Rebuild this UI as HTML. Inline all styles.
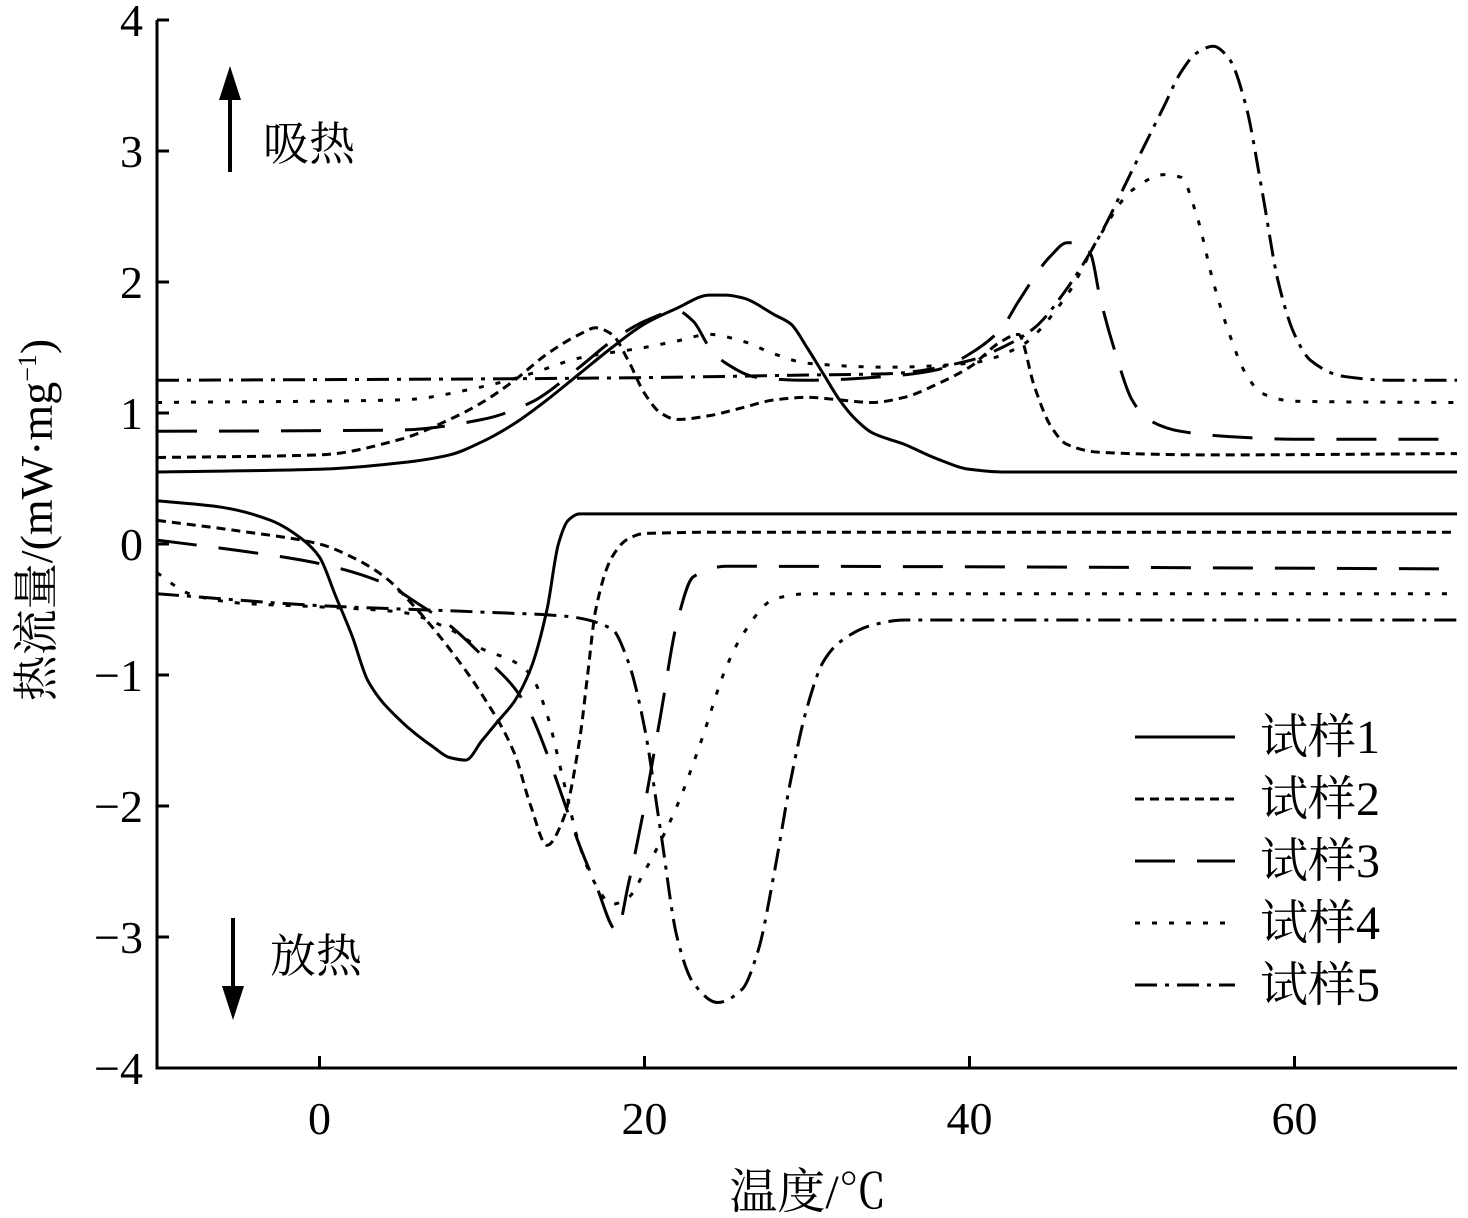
<!DOCTYPE html>
<html><head><meta charset="utf-8">
<style>
html,body{margin:0;padding:0;background:#fff;}
svg{display:block;font-family:"Liberation Serif","Noto Serif CJK SC",serif;}
</style></head>
<body>
<svg id="chart" width="1468" height="1218" viewBox="0 0 1468 1218" xmlns="http://www.w3.org/2000/svg">
<g id="axes"></g>
<g id="series"></g>
<g>
<line x1="230" y1="172" x2="230" y2="95" stroke="#000" stroke-width="4"/>
<polygon points="219,100 241,100 230,66" fill="#000"/>
<text x="263" y="160" font-size="46">吸热</text>
</g>
<g>
<line x1="233" y1="918" x2="233" y2="990" stroke="#000" stroke-width="4"/>
<polygon points="222,986 244,986 233,1020" fill="#000"/>
<text x="270" y="972" font-size="46">放热</text>
</g>
<text x="808" y="1208" font-size="48" text-anchor="middle">温度/℃</text>
<text transform="translate(52,520) rotate(-90)" font-size="46" text-anchor="middle">热流量/(mW·mg<tspan font-size="26" dy="-16">−1</tspan><tspan dy="16">)</tspan></text>
<g id="legend"></g>
</svg>
<script>
const xTicks=[0,20,40,60];
const yTicks=[-4,-3,-2,-1,0,1,2,3,4];
const seriesNames=["试样1","试样2","试样3","试样4","试样5"];
const dashes=["none","9,6","40,22","5,12","22,8,4,8"];
const s1HeatX=[-10,0,5,8,10,12,14,16,18,20,22,24,25,26,28,29,30,31,32,33,34,36,38,40,42,70];
const s1HeatY=[0.55,0.57,0.62,0.68,0.78,0.92,1.1,1.3,1.5,1.68,1.8,1.9,1.9,1.88,1.75,1.68,1.5,1.3,1.1,0.95,0.85,0.76,0.65,0.57,0.55,0.55];
const s1CoolX=[-10,-6,-3,-1,0,1,2,3,5,7,8,9,10,11,12,13,14,14.7,15.3,16,70];
const s1CoolY=[0.33,0.28,0.18,0.03,-0.1,-0.4,-0.7,-1.05,-1.35,-1.55,-1.63,-1.65,-1.5,-1.35,-1.2,-0.95,-0.5,0,0.18,0.23,0.23];
const s2HeatX=[-10,0,5,8,10,12,14,16,17,18,19,20,21,22,24,26,28,30,32,34,36,38,40,42,43,44,45,46,48,55,70];
const s2HeatY=[0.66,0.68,0.8,0.95,1.08,1.25,1.45,1.6,1.65,1.6,1.4,1.15,1.0,0.95,0.98,1.04,1.1,1.12,1.1,1.08,1.12,1.22,1.35,1.55,1.6,1.2,0.9,0.76,0.7,0.68,0.69];
const s2CoolX=[-10,-5,0,2,4,6,8,10,12,13,14,15,16,16.5,17,18,19,20,25,70];
const s2CoolY=[0.18,0.1,0,-0.1,-0.25,-0.5,-0.8,-1.15,-1.6,-2.0,-2.3,-2.1,-1.5,-1.0,-0.5,-0.1,0.04,0.08,0.09,0.09];
const s3HeatX=[-10,5,10,13,16,18,20,22,23,24,25,27,30,35,38,40,42,43,45,46,47,47.5,48,49,50,51,53,56,60,70];
const s3HeatY=[0.86,0.87,0.95,1.08,1.35,1.55,1.7,1.78,1.7,1.5,1.38,1.27,1.25,1.28,1.33,1.45,1.65,1.85,2.2,2.3,2.3,2.2,1.9,1.45,1.1,0.95,0.86,0.82,0.8,0.8];
const s3CoolX=[-10,-5,0,4,6,8,10,12,13,14,15,16,17,18.3,19,20,21,22,23,25,70];
const s3CoolY=[0.03,-0.05,-0.15,-0.3,-0.45,-0.62,-0.85,-1.1,-1.3,-1.6,-1.95,-2.3,-2.6,-2.95,-2.6,-2.0,-1.3,-0.6,-0.25,-0.17,-0.19];
const s4HeatX=[-10,5,10,13,16,20,22,24,26,28,30,35,40,43,46,48,50,52,53,54,55,56,57,58,60,70];
const s4HeatY=[1.08,1.1,1.2,1.3,1.42,1.5,1.55,1.6,1.55,1.45,1.38,1.35,1.38,1.5,1.9,2.35,2.7,2.82,2.8,2.5,2.0,1.6,1.3,1.15,1.09,1.08];
const s4CoolX=[-10,-8,-5,0,5,8,10,12,13,14,15,16,17,18,19,20,22,23.5,25,26,28,30,70];
const s4CoolY=[-0.22,-0.38,-0.45,-0.48,-0.52,-0.65,-0.8,-0.9,-1.0,-1.3,-1.8,-2.3,-2.6,-2.75,-2.7,-2.5,-2.0,-1.5,-0.95,-0.7,-0.42,-0.38,-0.38];
const s5HeatX=[-10,10,20,30,35,40,42,44,46,48,50,52,53,54,55,56,57,58,59,60,61,63,66,70];
const s5HeatY=[1.25,1.26,1.27,1.29,1.3,1.4,1.5,1.65,1.95,2.35,2.85,3.35,3.6,3.75,3.8,3.7,3.35,2.7,2.0,1.6,1.4,1.28,1.25,1.25];
const s5CoolX=[-10,0,10,15,18,19,20,21,22,23,24.5,26,27,28,29,30,31,32,34,36,70];
const s5CoolY=[-0.38,-0.47,-0.52,-0.55,-0.65,-0.9,-1.4,-2.2,-3.0,-3.35,-3.5,-3.4,-3.1,-2.5,-1.8,-1.25,-0.9,-0.75,-0.62,-0.58,-0.58];

const X0=157,X1=1457,Y0=1068,Y1=20;
const xs=v=>X0+(v+10)/80*(X1-X0);
const ys=v=>Y0-(v+4)/8*(Y0-Y1);
const NS="http://www.w3.org/2000/svg";
function mk(tag,attrs,parent){const e=document.createElementNS(NS,tag);for(const k in attrs)e.setAttribute(k,attrs[k]);parent.appendChild(e);return e;}
const axes=document.getElementById('axes');
const frame=mk('path',{d:`M${X0},${Y1} V${Y0} H${X1}`,fill:'none',stroke:'#000','stroke-width':3},axes);


xTicks.forEach(t=>{
  const l=mk('line',{x1:xs(t),x2:xs(t),y1:Y0,y2:Y0-12,stroke:'#000','stroke-width':3},axes);
  
  
  const tx=mk('text',{x:xs(t),y:Y0+66,'font-size':46,'text-anchor':'middle'},axes);
  tx.textContent=t;
  
  
});
yTicks.forEach(t=>{
  const l=mk('line',{x1:X0,x2:X0+12,y1:ys(t),y2:ys(t),stroke:'#000','stroke-width':3},axes);
  
  
  const tx=mk('text',{x:X0-14,y:ys(t)+16,'font-size':46,'text-anchor':'end'},axes);
  tx.textContent=t<0?'−'+(-t):t;
  
  
});
function pathD(X,Y){
  const n=X.length;
  const px=X.map(xs),py=Y.map(ys);
  const d=[],m=new Array(n);
  for(let i=0;i<n-1;i++)d.push((py[i+1]-py[i])/(px[i+1]-px[i]));
  m[0]=d[0];m[n-1]=d[n-2];
  for(let i=1;i<n-1;i++){
    if(d[i-1]*d[i]<=0)m[i]=0;
    else{const w1=2*(px[i+1]-px[i])+(px[i]-px[i-1]),w2=(px[i+1]-px[i])+2*(px[i]-px[i-1]);m[i]=(w1+w2)/(w1/d[i-1]+w2/d[i]);}
  }
  let s=`M${px[0].toFixed(1)},${py[0].toFixed(1)}`;
  for(let i=0;i<n-1;i++){
    const h=(px[i+1]-px[i])/3;
    s+=` C${(px[i]+h).toFixed(1)},${(py[i]+m[i]*h).toFixed(1)} ${(px[i+1]-h).toFixed(1)},${(py[i+1]-m[i+1]*h).toFixed(1)} ${px[i+1].toFixed(1)},${py[i+1].toFixed(1)}`;
  }
  return s;
}
const sg=document.getElementById('series');
const data=[[s1HeatX,s1HeatY,s1CoolX,s1CoolY],[s2HeatX,s2HeatY,s2CoolX,s2CoolY],[s3HeatX,s3HeatY,s3CoolX,s3CoolY],[s4HeatX,s4HeatY,s4CoolX,s4CoolY],[s5HeatX,s5HeatY,s5CoolX,s5CoolY]];
data.forEach((d,i)=>{
  const h=mk('path',{d:pathD(d[0],d[1]),fill:'none',stroke:'#000','stroke-width':3,'stroke-dasharray':dashes[i]},sg);
  
  
  const c=mk('path',{d:pathD(d[2],d[3]),fill:'none',stroke:'#000','stroke-width':3,'stroke-dasharray':dashes[i]},sg);
  
  
});
const lg=document.getElementById('legend');
seriesNames.forEach((n,i)=>{
  const y=737+i*62;
  const l=mk('line',{x1:1135,x2:1235,y1:y,y2:y,stroke:'#000','stroke-width':3,'stroke-dasharray':dashes[i]},lg);
  
  
  const t=mk('text',{x:1260,y:y+16,'font-size':48},lg);
  t.textContent=n;
  
  
});
</script>
</body></html>
